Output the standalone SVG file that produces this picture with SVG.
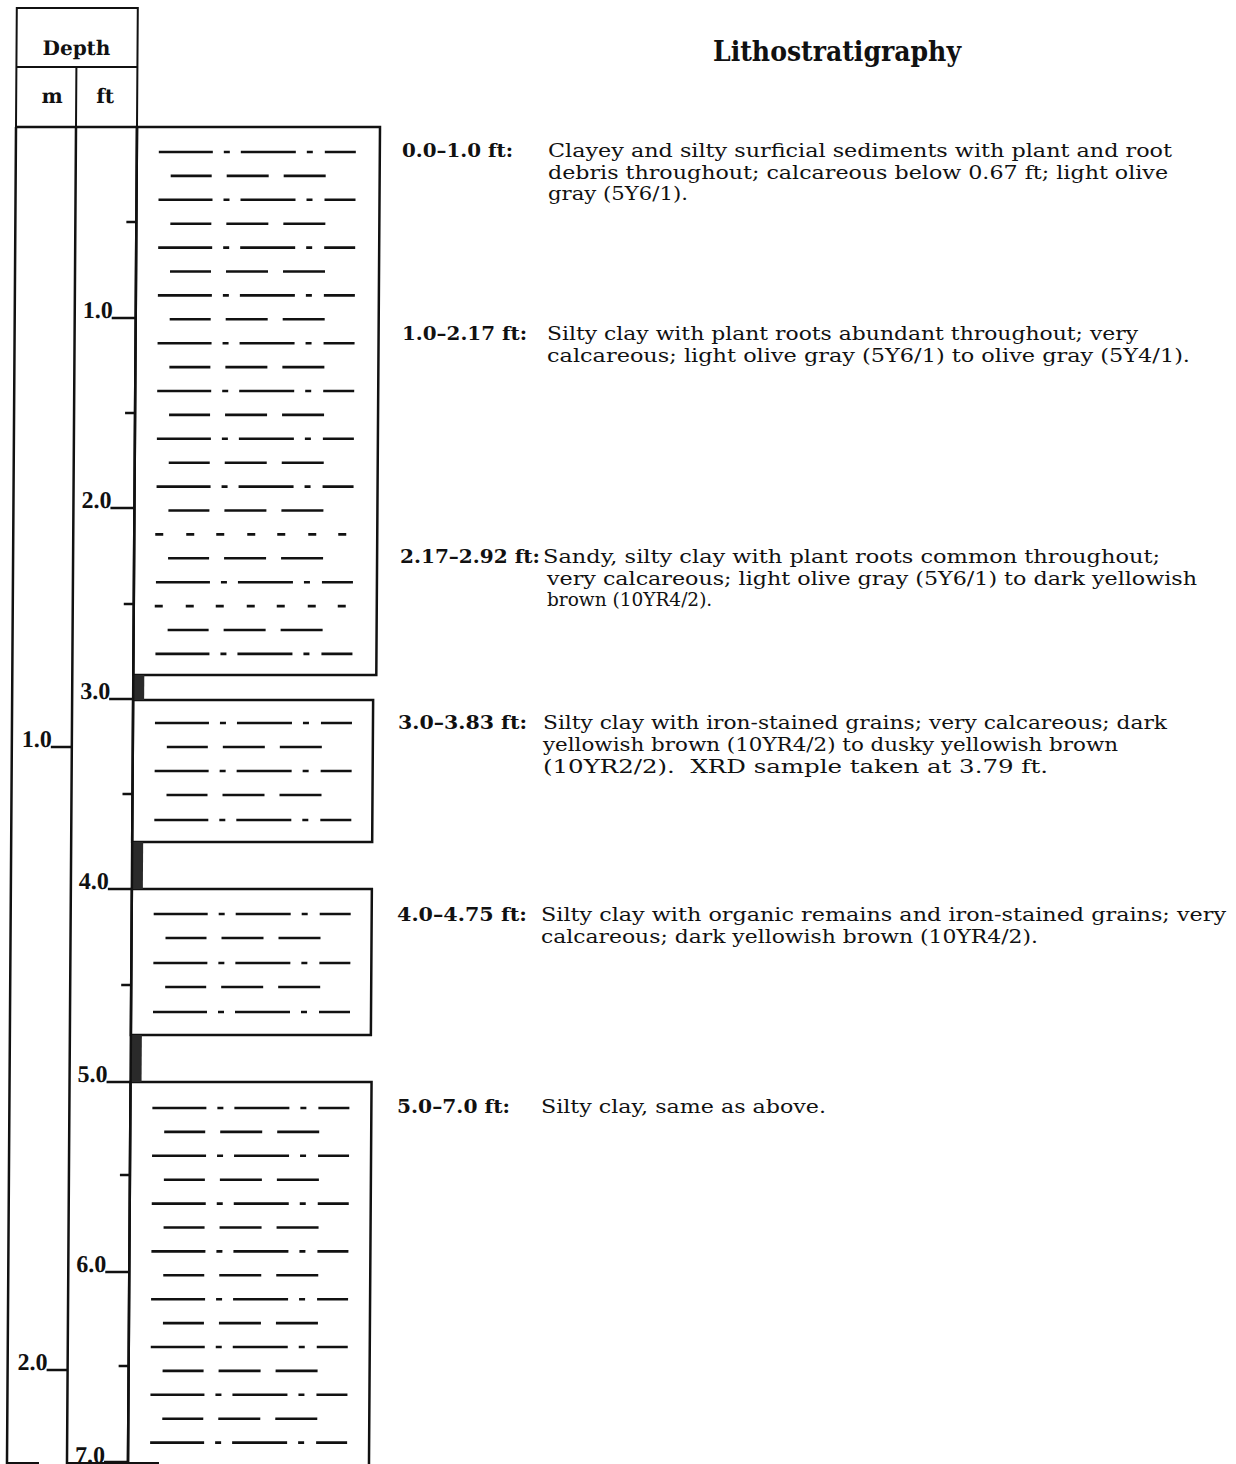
<svg xmlns="http://www.w3.org/2000/svg" xmlns:xlink="http://www.w3.org/1999/xlink" width="1236" height="1464" viewBox="0 0 1236 1464">
<style>
.ln{stroke:#111;stroke-width:2.5;fill:none}
.thin{stroke:#111;stroke-width:2;fill:none}
.box{stroke:#111;stroke-width:2.5;fill:#fff}
.pat line{stroke:#111;stroke-width:2.6}
.bar{fill:#2a2a2a}
.hd{font-family:"DejaVu Serif","Liberation Serif",serif;font-weight:bold;fill:#111}
.sc{font-family:"Liberation Serif","Times New Roman",serif;font-weight:bold;font-size:24px;fill:#111}
.lb{font-family:"DejaVu Serif","Liberation Serif",serif;font-weight:bold;font-size:18.6px;fill:#111}
.tx{font-family:"DejaVu Serif","Liberation Serif",serif;font-size:18.5px;fill:#111}
</style>
<defs>
<g id="rowA" class="pat"><line x1="159" y1="0" x2="213" y2="0"/><line x1="224" y1="0" x2="230" y2="0"/><line x1="241" y1="0" x2="296" y2="0"/><line x1="307" y1="0" x2="313" y2="0"/><line x1="325" y1="0" x2="356" y2="0"/></g>
<g id="rowB" class="pat"><line x1="171" y1="0" x2="212" y2="0"/><line x1="227" y1="0" x2="269" y2="0"/><line x1="284" y1="0" x2="326" y2="0"/></g>
<g id="rowS" class="pat"><line x1="158" y1="0" x2="166" y2="0"/><line x1="189" y1="0" x2="197" y2="0"/><line x1="219" y1="0" x2="227" y2="0"/><line x1="250" y1="0" x2="258" y2="0"/><line x1="280" y1="0" x2="288" y2="0"/><line x1="311" y1="0" x2="319" y2="0"/><line x1="341" y1="0" x2="349" y2="0"/></g>
</defs>
<rect width="1236" height="1464" fill="#fff"/>
<g transform="translate(0,127) skewX(-0.3868) translate(0,-127)">
<g id="header">
<path class="thin" d="M16,127 V8 H137 V127 M16,67 H137 M76,67 V127"/>
<text class="hd" x="76" y="55" font-size="20" text-anchor="middle">Depth</text>
<text class="hd" x="52" y="103" font-size="20" text-anchor="middle">m</text>
<text class="hd" x="105" y="103" font-size="20" text-anchor="middle">ft</text>
</g>
<g id="unit-0-2.92">
<rect class="box" x="137" y="127" width="243" height="548"/>
<use xlink:href="#rowA" y="152"/><use xlink:href="#rowB" y="175.9"/><use xlink:href="#rowA" y="199.8"/><use xlink:href="#rowB" y="223.7"/>
<use xlink:href="#rowA" y="247.6"/><use xlink:href="#rowB" y="271.5"/><use xlink:href="#rowA" y="295.4"/><use xlink:href="#rowB" y="319.3"/>
<use xlink:href="#rowA" y="343.2"/><use xlink:href="#rowB" y="367.1"/><use xlink:href="#rowA" y="391"/><use xlink:href="#rowB" y="414.9"/>
<use xlink:href="#rowA" y="438.8"/><use xlink:href="#rowB" y="462.7"/><use xlink:href="#rowA" y="486.6"/><use xlink:href="#rowB" y="510.5"/>
<use xlink:href="#rowS" y="534.4"/><use xlink:href="#rowB" y="558.3"/><use xlink:href="#rowA" y="582.2"/><use xlink:href="#rowS" y="606.1"/>
<use xlink:href="#rowB" y="630"/><use xlink:href="#rowA" y="653.9"/>
</g>
<g id="unit-3.0-3.83">
<rect class="box" x="137" y="700" width="240" height="142"/>
<use xlink:href="#rowA" y="723"/><use xlink:href="#rowB" y="747"/><use xlink:href="#rowA" y="771"/><use xlink:href="#rowB" y="795"/><use xlink:href="#rowA" y="820"/>
</g>
<g id="unit-4.0-4.75">
<rect class="box" x="137" y="889" width="240" height="146"/>
<use xlink:href="#rowA" y="914"/><use xlink:href="#rowB" y="938"/><use xlink:href="#rowA" y="963"/><use xlink:href="#rowB" y="987"/><use xlink:href="#rowA" y="1012"/>
</g>
<g id="unit-5.0-7.0">
<rect class="box" x="137" y="1082" width="241" height="400"/>
<use xlink:href="#rowA" y="1108"/><use xlink:href="#rowB" y="1131.9"/><use xlink:href="#rowA" y="1155.8"/><use xlink:href="#rowB" y="1179.7"/>
<use xlink:href="#rowA" y="1203.6"/><use xlink:href="#rowB" y="1227.5"/><use xlink:href="#rowA" y="1251.4"/><use xlink:href="#rowB" y="1275.3"/>
<use xlink:href="#rowA" y="1299.2"/><use xlink:href="#rowB" y="1323.1"/><use xlink:href="#rowA" y="1347"/><use xlink:href="#rowB" y="1370.9"/>
<use xlink:href="#rowA" y="1394.8"/><use xlink:href="#rowB" y="1418.7"/><use xlink:href="#rowA" y="1442.6"/>
</g>
<g id="gaps">
<rect class="bar" x="137" y="675" width="11" height="25"/>
<rect class="bar" x="137" y="842" width="11" height="47"/>
<rect class="bar" x="137" y="1035" width="11" height="47"/>
</g>
<g id="depth-scale">
<path class="ln" d="M16,127 V1470 M76,127 V1470 M137,127 V1470 M16,127 H137"/>
<path class="ln" d="M113,318 H137 M113,508 H137 M113,699 H137 M113,889 H137 M113,1082 H137 M113,1272 H137 M113,1462 H137"/>
<path class="ln" d="M127,222 H137 M127,413 H137 M127,604 H137 M127,794 H137 M127,985 H137 M127,1175 H137 M127,1366 H137"/>
<path class="ln" d="M55,747 H76 M55,1370 H76"/>
<path class="thin" d="M16,1463 H48 M76,1463 H168"/>
<text class="sc" x="114" y="318" text-anchor="end">1.0</text>
<text class="sc" x="114" y="508" text-anchor="end">2.0</text>
<text class="sc" x="114" y="699" text-anchor="end">3.0</text>
<text class="sc" x="114" y="889" text-anchor="end">4.0</text>
<text class="sc" x="114" y="1082" text-anchor="end">5.0</text>
<text class="sc" x="114" y="1272" text-anchor="end">6.0</text>
<text class="sc" x="114" y="1463" text-anchor="end">7.0</text>
<text class="sc" x="56" y="747" text-anchor="end">1.0</text>
<text class="sc" x="56" y="1370" text-anchor="end">2.0</text>
</g>
</g>
<g id="descriptions">
<text class="hd" x="713" y="61" font-size="27" textLength="248" lengthAdjust="spacingAndGlyphs">Lithostratigraphy</text>
<text class="lb" x="402" y="157" textLength="111" lengthAdjust="spacingAndGlyphs">0.0–1.0 ft:</text>
<text class="tx" x="548" y="157" textLength="624" lengthAdjust="spacingAndGlyphs">Clayey and silty surficial sediments with plant and root</text>
<text class="tx" x="548" y="178.5" textLength="620" lengthAdjust="spacingAndGlyphs">debris throughout; calcareous below 0.67 ft; light olive</text>
<text class="tx" x="548" y="200" textLength="140" lengthAdjust="spacingAndGlyphs">gray (5Y6/1).</text>
<text class="lb" x="402" y="340" textLength="125" lengthAdjust="spacingAndGlyphs">1.0–2.17 ft:</text>
<text class="tx" x="547" y="340" textLength="591" lengthAdjust="spacingAndGlyphs">Silty clay with plant roots abundant throughout; very</text>
<text class="tx" x="547" y="361.5" textLength="643" lengthAdjust="spacingAndGlyphs">calcareous; light olive gray (5Y6/1) to olive gray (5Y4/1).</text>
<text class="lb" x="400" y="563" textLength="140" lengthAdjust="spacingAndGlyphs">2.17–2.92 ft:</text>
<text class="tx" x="543" y="563" textLength="617" lengthAdjust="spacingAndGlyphs">Sandy, silty clay with plant roots common throughout;</text>
<text class="tx" x="547" y="584.5" textLength="650" lengthAdjust="spacingAndGlyphs">very calcareous; light olive gray (5Y6/1) to dark yellowish</text>
<text class="tx" x="547" y="606">brown (10YR4/2).</text>
<text class="lb" x="398" y="729" textLength="129" lengthAdjust="spacingAndGlyphs">3.0–3.83 ft:</text>
<text class="tx" x="543" y="729" textLength="624" lengthAdjust="spacingAndGlyphs">Silty clay with iron-stained grains; very calcareous; dark</text>
<text class="tx" x="543" y="751" textLength="575" lengthAdjust="spacingAndGlyphs">yellowish brown (10YR4/2) to dusky yellowish brown</text>
<text class="tx" x="543" y="773" textLength="505" lengthAdjust="spacingAndGlyphs">(10YR2/2).&#160; XRD sample taken at 3.79 ft.</text>
<text class="lb" x="397" y="921" textLength="130" lengthAdjust="spacingAndGlyphs">4.0–4.75 ft:</text>
<text class="tx" x="541" y="921" textLength="685" lengthAdjust="spacingAndGlyphs">Silty clay with organic remains and iron-stained grains; very</text>
<text class="tx" x="541" y="943" textLength="497" lengthAdjust="spacingAndGlyphs">calcareous; dark yellowish brown (10YR4/2).</text>
<text class="lb" x="397" y="1113" textLength="113" lengthAdjust="spacingAndGlyphs">5.0–7.0 ft:</text>
<text class="tx" x="541" y="1113" textLength="285" lengthAdjust="spacingAndGlyphs">Silty clay, same as above.</text>
</g>
</svg>
